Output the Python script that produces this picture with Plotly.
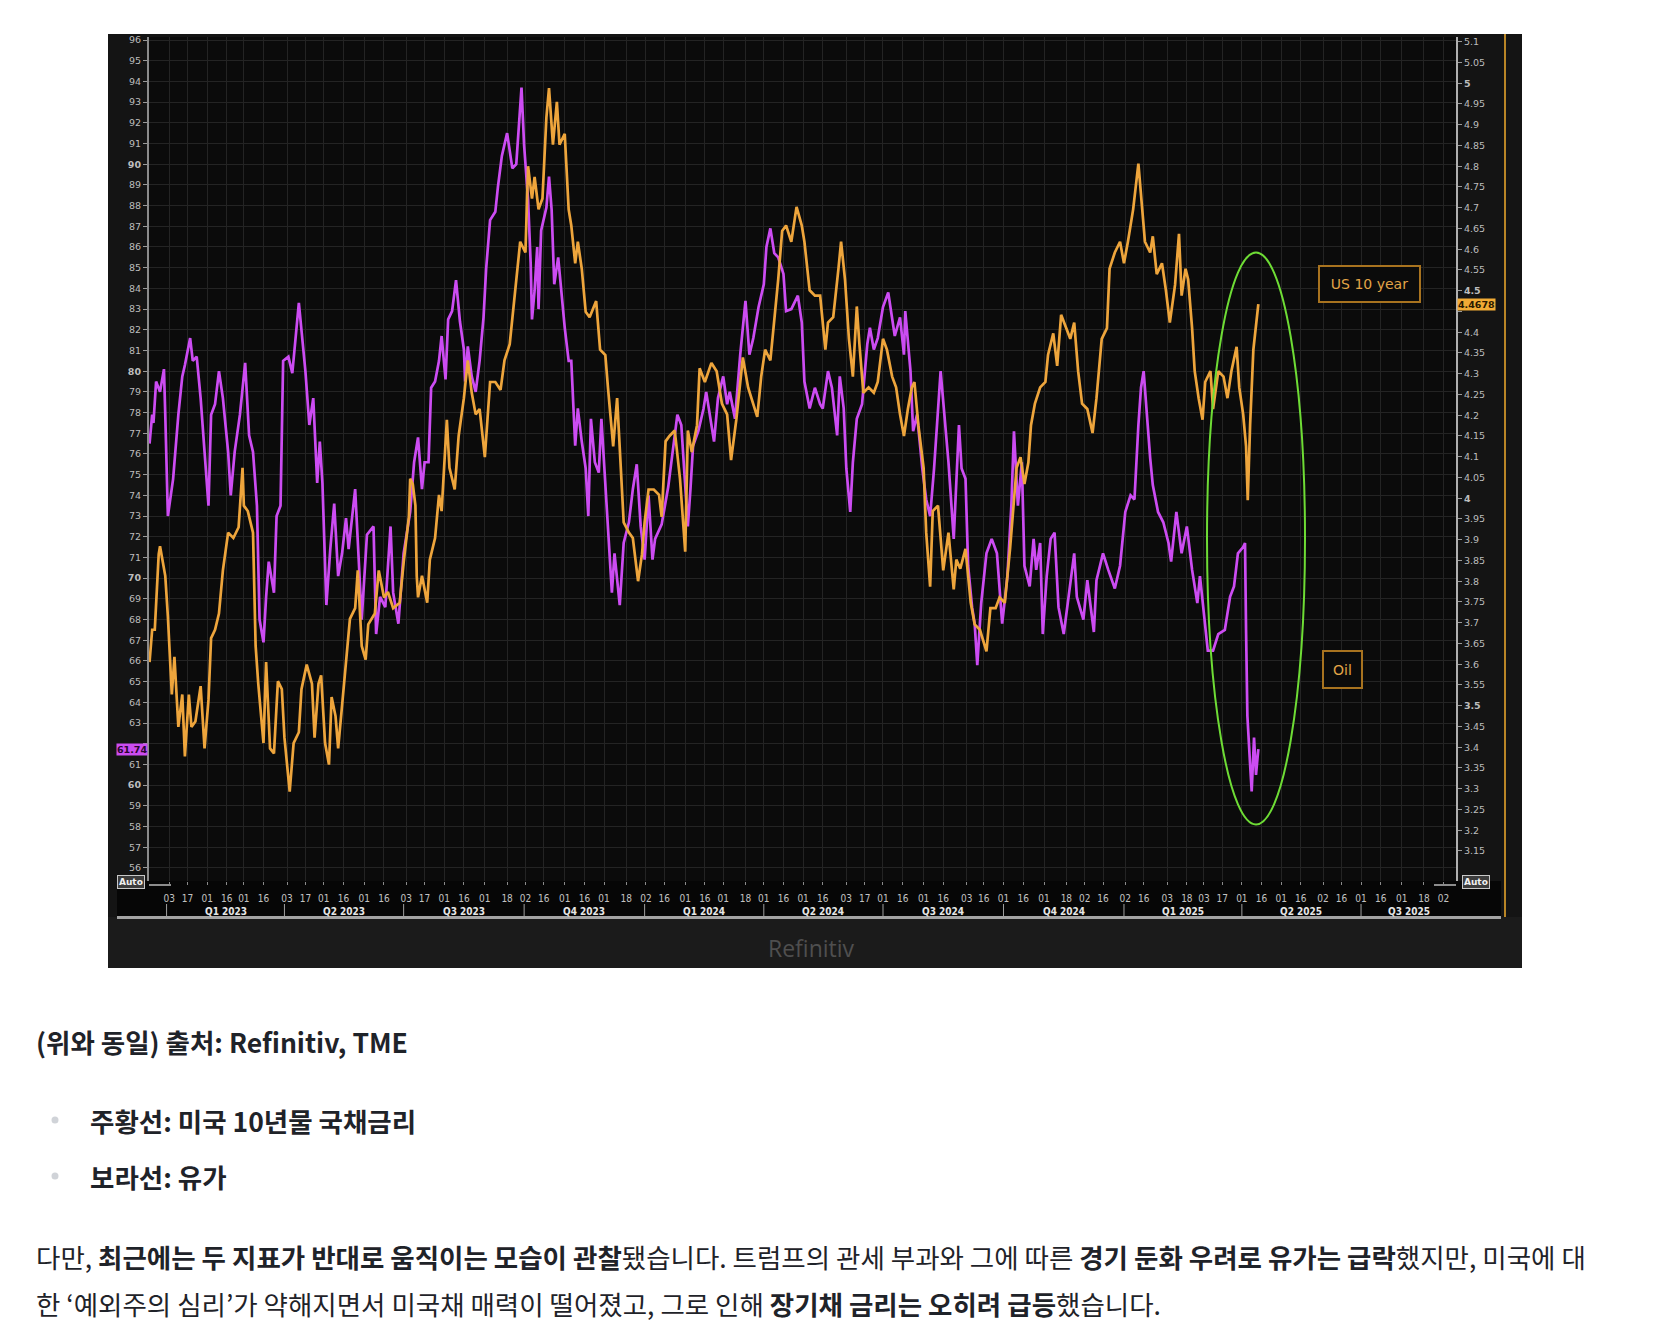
import plotly.graph_objects as go
import pandas as pd

# ---------------- DATA ----------------
oil_dates = [
    "2022-12-19", "2022-12-21", "2022-12-22", "2022-12-24", "2022-12-27", "2022-12-30", "2022-12-31",
    "2023-01-02", "2023-01-06", "2023-01-10", "2023-01-13", "2023-01-15", "2023-01-19", "2023-01-21",
    "2023-01-24", "2023-01-27", "2023-01-30", "2023-02-02", "2023-02-04", "2023-02-07", "2023-02-10",
    "2023-02-13", "2023-02-17", "2023-02-19", "2023-02-22", "2023-02-26", "2023-03-02", "2023-03-05",
    "2023-03-08", "2023-03-11", "2023-03-13", "2023-03-16", "2023-03-18", "2023-03-20", "2023-03-24",
    "2023-03-26", "2023-03-29", "2023-03-31", "2023-04-04", "2023-04-07", "2023-04-12", "2023-04-14",
    "2023-04-17", "2023-04-20", "2023-04-23", "2023-04-26", "2023-04-28", "2023-04-30", "2023-05-03",
    "2023-05-06", "2023-05-09", "2023-05-12", "2023-05-15", "2023-05-18", "2023-05-20", "2023-05-25",
    "2023-05-27", "2023-05-30", "2023-06-03", "2023-06-08", "2023-06-10", "2023-06-13", "2023-06-17",
    "2023-06-21", "2023-06-23", "2023-06-27", "2023-07-01", "2023-07-06", "2023-07-09", "2023-07-12",
    "2023-07-15", "2023-07-17", "2023-07-20", "2023-07-22", "2023-07-25", "2023-07-28", "2023-07-30",
    "2023-08-02", "2023-08-04", "2023-08-07", "2023-08-10", "2023-08-13", "2023-08-16", "2023-08-17",
    "2023-08-19", "2023-08-22", "2023-08-25", "2023-08-28", "2023-08-31", "2023-09-02", "2023-09-05",
    "2023-09-09", "2023-09-11", "2023-09-14", "2023-09-18", "2023-09-22", "2023-09-25", "2023-09-29",
    "2023-10-01", "2023-10-04", "2023-10-06", "2023-10-07", "2023-10-09", "2023-10-11", "2023-10-12",
    "2023-10-14", "2023-10-18", "2023-10-20", "2023-10-22", "2023-10-24", "2023-10-27", "2023-10-30",
    "2023-11-01", "2023-11-04", "2023-11-06", "2023-11-09", "2023-11-11", "2023-11-14", "2023-11-17",
    "2023-11-19", "2023-11-21", "2023-11-24", "2023-11-27", "2023-11-29", "2023-12-02", "2023-12-04",
    "2023-12-07", "2023-12-09", "2023-12-13", "2023-12-16", "2023-12-20", "2023-12-23", "2023-12-26",
    "2023-12-29", "2024-01-01", "2024-01-04", "2024-01-07", "2024-01-09", "2024-01-14", "2024-01-19",
    "2024-01-23", "2024-01-26", "2024-01-29", "2024-02-01", "2024-02-03", "2024-02-05", "2024-02-07",
    "2024-02-11", "2024-02-15", "2024-02-17", "2024-02-20", "2024-02-23", "2024-02-26", "2024-03-01",
    "2024-03-04", "2024-03-06", "2024-03-10", "2024-03-14", "2024-03-18", "2024-03-21", "2024-03-24",
    "2024-03-28", "2024-04-01", "2024-04-03", "2024-04-06", "2024-04-09", "2024-04-12", "2024-04-16",
    "2024-04-18", "2024-04-22", "2024-04-27", "2024-04-30", "2024-05-02", "2024-05-06", "2024-05-10",
    "2024-05-14", "2024-05-16", "2024-05-20", "2024-05-23", "2024-05-27", "2024-05-29", "2024-06-01",
    "2024-06-03", "2024-06-06", "2024-06-08", "2024-06-11", "2024-06-15", "2024-06-19", "2024-06-21",
    "2024-06-24", "2024-06-27", "2024-07-01", "2024-07-05", "2024-07-08", "2024-07-10", "2024-07-14",
    "2024-07-17", "2024-07-18", "2024-07-22", "2024-07-24", "2024-07-27", "2024-07-31", "2024-08-03",
    "2024-08-06", "2024-08-09", "2024-08-14", "2024-08-17", "2024-08-20", "2024-08-24", "2024-08-26",
    "2024-08-28", "2024-08-30", "2024-09-02", "2024-09-04", "2024-09-07", "2024-09-09", "2024-09-11",
    "2024-09-14", "2024-09-18", "2024-09-22", "2024-09-26", "2024-09-30", "2024-10-04", "2024-10-07",
    "2024-10-09", "2024-10-12", "2024-10-15", "2024-10-17", "2024-10-21", "2024-10-24", "2024-10-26",
    "2024-10-29", "2024-10-31", "2024-11-03", "2024-11-06", "2024-11-09", "2024-11-12", "2024-11-16",
    "2024-11-20", "2024-11-24", "2024-11-26", "2024-12-01", "2024-12-04", "2024-12-09", "2024-12-11",
    "2024-12-16", "2024-12-20", "2024-12-25", "2024-12-29", "2025-01-02", "2025-01-06", "2025-01-09",
    "2025-01-12", "2025-01-14", "2025-01-16", "2025-01-18", "2025-01-21", "2025-01-23", "2025-01-27",
    "2025-01-31", "2025-02-04", "2025-02-06", "2025-02-10", "2025-02-14", "2025-02-18", "2025-02-22",
    "2025-02-26", "2025-02-28", "2025-03-04", "2025-03-06", "2025-03-10", "2025-03-14", "2025-03-19",
    "2025-03-23", "2025-03-26", "2025-03-29", "2025-04-02", "2025-04-03 10:00", "2025-04-04 05:00",
    "2025-04-05 05:00", "2025-04-07 07:00", "2025-04-08 12:00", "2025-04-10 07:00", "2025-04-11 19:00",
    "2025-04-13 14:00",
]
oil_values = [
    76.5, 77.9, 77.5, 79.5, 79.0, 80.1, 77.9,
    73.0, 74.8, 77.9, 79.75, 80.3, 81.6, 80.5,
    80.7, 78.7, 76.1, 73.5, 77.9, 78.4, 80.0,
    78.7, 76.1, 74.0, 76.1, 77.9, 80.4, 76.9,
    76.1, 73.5, 68.0, 66.9, 69.1, 70.8, 69.3,
    73.0, 73.5, 80.5, 80.7, 79.9, 83.3, 82.1,
    80.0, 77.4, 78.7, 74.6, 76.6, 74.6, 68.7,
    71.4, 73.6, 70.1, 71.2, 72.9, 71.4, 74.3,
    71.7, 68.0, 72.1, 72.5, 67.3, 69.1, 68.6,
    72.5, 69.3, 67.8, 71.2, 73.2, 75.6, 76.8,
    74.3, 75.6, 75.6, 79.2, 79.5, 80.5, 81.7,
    79.6, 82.5, 82.9, 84.4, 82.4, 81.05, 79.5,
    81.2, 79.75, 79.0, 80.5, 82.6, 84.95, 87.3,
    87.7, 88.9, 90.4, 91.5, 89.8, 90.0, 93.7,
    90.9, 88.3, 85.2, 82.5, 83.9, 86.0, 83.0,
    86.8, 87.9, 89.4, 87.8, 84.2, 85.5, 83.4,
    82.1, 80.5, 80.5, 76.4, 78.2, 76.6, 75.3,
    73.0, 77.7, 75.6, 75.1, 77.7, 74.5, 72.7,
    69.3, 71.2, 68.7, 71.7, 72.7, 74.3, 75.5,
    72.5, 70.9, 74.0, 70.9, 71.9, 72.6, 74.4,
    76.4, 77.9, 77.4, 74.5, 72.5, 74.3, 76.4,
    77.1, 78.2, 79.0, 77.9, 76.6, 78.7, 79.75,
    78.4, 79.0, 77.7, 80.8, 83.4, 80.8, 81.6,
    83.1, 84.2, 86.0, 86.9, 85.7, 85.5, 84.7,
    82.9, 83.0, 83.65, 82.35, 79.5, 78.2, 79.2,
    78.4, 78.2, 80.0, 79.2, 76.9, 79.75, 78.2,
    75.3, 73.2, 75.6, 77.7, 78.4, 81.3, 82.1,
    81.05, 81.6, 83.1, 83.8, 82.6, 81.7, 82.6,
    80.8, 82.9, 80.0, 77.1, 77.9, 75.3, 73.8,
    73.0, 75.3, 80.0, 77.9, 75.6, 71.9, 74.8,
    77.4, 75.3, 74.8, 70.6, 68.6, 67.8, 65.8,
    68.8, 71.2, 71.9, 71.2, 67.8, 70.1, 73.5,
    77.1, 73.5, 75.6, 70.6, 69.6, 71.9, 70.4,
    71.7, 67.3, 70.1, 71.9, 72.2, 68.6, 67.3,
    69.3, 71.2, 69.1, 68.0, 69.9, 67.4, 69.9,
    71.2, 70.4, 69.5, 70.6, 73.2, 74.0, 73.8,
    77.4, 79.2, 80.0, 78.2, 75.8, 74.5, 73.2,
    72.7, 71.7, 70.8, 73.2, 71.2, 72.5, 70.4,
    68.8, 70.1, 67.5, 66.5, 66.5, 67.3, 67.5,
    69.1, 69.6, 71.2, 71.5, 71.7, 67.5,
    63.35, 61.0, 59.7, 62.3, 60.5,
    61.74,
]

us10y_dates = [
    "2022-12-19", "2022-12-21", "2022-12-23", "2022-12-26", "2022-12-27", "2022-12-31",
    "2023-01-02", "2023-01-05", "2023-01-07", "2023-01-10", "2023-01-13", "2023-01-15", "2023-01-18",
    "2023-01-20", "2023-01-23", "2023-01-27", "2023-01-30", "2023-02-02", "2023-02-04", "2023-02-07",
    "2023-02-10", "2023-02-13", "2023-02-17", "2023-02-21", "2023-02-25", "2023-02-28", "2023-03-01",
    "2023-03-04", "2023-03-08", "2023-03-10", "2023-03-12", "2023-03-16", "2023-03-18", "2023-03-21",
    "2023-03-24", "2023-03-27", "2023-03-30", "2023-04-01", "2023-04-05", "2023-04-08", "2023-04-12",
    "2023-04-14", "2023-04-18", "2023-04-22", "2023-04-24", "2023-04-27", "2023-04-29", "2023-05-02",
    "2023-05-05", "2023-05-07", "2023-05-10", "2023-05-12", "2023-05-15", "2023-05-19", "2023-05-21",
    "2023-05-25", "2023-05-27", "2023-05-30", "2023-06-02", "2023-06-04", "2023-06-09", "2023-06-12",
    "2023-06-16", "2023-06-19", "2023-06-23", "2023-06-28", "2023-07-01", "2023-07-05", "2023-07-06",
    "2023-07-08", "2023-07-10", "2023-07-11", "2023-07-12", "2023-07-15", "2023-07-19", "2023-07-21",
    "2023-07-25", "2023-07-28", "2023-07-30", "2023-08-03", "2023-08-05", "2023-08-09", "2023-08-12",
    "2023-08-16", "2023-08-19", "2023-08-22", "2023-08-25", "2023-08-28", "2023-09-01", "2023-09-05",
    "2023-09-09", "2023-09-13", "2023-09-16", "2023-09-20", "2023-09-23", "2023-09-25", "2023-09-28",
    "2023-10-02", "2023-10-04", "2023-10-07", "2023-10-09", "2023-10-12", "2023-10-15", "2023-10-18",
    "2023-10-20", "2023-10-23", "2023-10-26", "2023-10-28", "2023-11-01", "2023-11-04", "2023-11-06",
    "2023-11-09", "2023-11-11", "2023-11-14", "2023-11-17", "2023-11-20", "2023-11-25", "2023-11-28",
    "2023-12-02", "2023-12-04", "2023-12-08", "2023-12-11", "2023-12-13", "2023-12-16", "2023-12-20",
    "2023-12-23", "2023-12-27", "2023-12-30", "2024-01-01", "2024-01-04", "2024-01-08", "2024-01-12",
    "2024-01-14", "2024-01-17", "2024-01-20", "2024-01-24", "2024-01-28", "2024-02-01", "2024-02-03",
    "2024-02-06", "2024-02-10", "2024-02-12", "2024-02-16", "2024-02-21", "2024-02-25", "2024-02-29",
    "2024-03-04", "2024-03-07", "2024-03-11", "2024-03-14", "2024-03-16", "2024-03-20", "2024-03-24",
    "2024-03-27", "2024-03-30", "2024-04-02", "2024-04-06", "2024-04-09", "2024-04-12", "2024-04-15",
    "2024-04-18", "2024-04-22", "2024-04-26", "2024-04-30", "2024-05-02", "2024-05-06", "2024-05-10",
    "2024-05-14", "2024-05-18", "2024-05-20", "2024-05-24", "2024-05-28", "2024-05-30", "2024-06-02",
    "2024-06-05", "2024-06-08", "2024-06-11", "2024-06-13", "2024-06-16", "2024-06-20", "2024-06-24",
    "2024-06-27", "2024-07-01", "2024-07-04", "2024-07-08", "2024-07-11", "2024-07-14", "2024-07-17",
    "2024-07-20", "2024-07-23", "2024-07-25", "2024-07-28", "2024-08-01", "2024-08-03", "2024-08-06",
    "2024-08-08", "2024-08-12", "2024-08-16", "2024-08-20", "2024-08-24", "2024-08-26", "2024-08-29",
    "2024-09-02", "2024-09-06", "2024-09-09", "2024-09-13", "2024-09-18", "2024-09-21", "2024-09-25",
    "2024-09-28", "2024-10-02", "2024-10-06", "2024-10-09", "2024-10-11", "2024-10-14", "2024-10-17",
    "2024-10-20", "2024-10-22", "2024-10-25", "2024-10-29", "2024-11-02", "2024-11-04", "2024-11-08",
    "2024-11-11", "2024-11-14", "2024-11-18", "2024-11-21", "2024-11-24", "2024-11-27", "2024-11-30",
    "2024-12-04", "2024-12-08", "2024-12-11", "2024-12-15", "2024-12-19", "2024-12-21", "2024-12-25",
    "2024-12-29", "2025-01-01", "2025-01-04", "2025-01-08", "2025-01-12", "2025-01-14", "2025-01-17",
    "2025-01-21", "2025-01-23", "2025-01-26", "2025-01-30", "2025-02-02", "2025-02-05", "2025-02-09",
    "2025-02-12", "2025-02-14", "2025-02-17", "2025-02-19", "2025-02-22", "2025-02-24", "2025-02-27",
    "2025-03-02", "2025-03-04", "2025-03-08", "2025-03-10", "2025-03-14", "2025-03-18", "2025-03-21",
    "2025-03-24", "2025-03-28", "2025-03-30", "2025-04-02", "2025-04-04 05:00", "2025-04-05 12:00",
    "2025-04-07 07:00", "2025-04-09 19:00", "2025-04-12 07:00", "2025-04-13 14:00",
]
us10y_values = [
    3.605, 3.683, 3.683, 3.865, 3.884, 3.813,
    3.715, 3.527, 3.618, 3.449, 3.527, 3.378, 3.527,
    3.449, 3.462, 3.547, 3.397, 3.514, 3.663, 3.683,
    3.722, 3.826, 3.917, 3.904, 3.930, 4.073, 3.982,
    3.969, 3.917, 3.644, 3.553, 3.410, 3.605, 3.397,
    3.385, 3.559, 3.540, 3.423, 3.293, 3.410, 3.436,
    3.540, 3.599, 3.553, 3.423, 3.553, 3.573, 3.410,
    3.358, 3.521, 3.475, 3.397, 3.501, 3.631, 3.709,
    3.735, 3.826, 3.644, 3.611, 3.696, 3.722, 3.826,
    3.761, 3.774, 3.735, 3.748, 3.845, 3.955, 4.047,
    4.034, 3.982, 3.813, 3.761, 3.813, 3.748, 3.852,
    3.904, 4.008, 3.969, 4.189, 4.073, 4.021, 4.150,
    4.241, 4.332, 4.254, 4.202, 4.215, 4.099, 4.280,
    4.280, 4.261, 4.332, 4.371, 4.462, 4.514, 4.618,
    4.592, 4.800, 4.722, 4.774, 4.696, 4.722, 4.917,
    4.988, 4.852, 4.955, 4.852, 4.878, 4.696, 4.657,
    4.566, 4.618, 4.553, 4.449, 4.436, 4.475, 4.358,
    4.345, 4.267, 4.125, 4.241, 4.125, 3.942, 3.917,
    3.904, 3.800, 3.865, 3.942, 4.021, 4.021, 4.008,
    3.955, 4.137, 4.150, 4.163, 4.047, 3.871, 4.163,
    4.111, 4.176, 4.313, 4.280, 4.326, 4.306, 4.228,
    4.202, 4.092, 4.189, 4.280, 4.339, 4.267, 4.228,
    4.196, 4.293, 4.358, 4.332, 4.423, 4.527, 4.644,
    4.657, 4.618, 4.702, 4.657, 4.618, 4.501, 4.488,
    4.488, 4.358, 4.423, 4.436, 4.553, 4.618, 4.527,
    4.384, 4.293, 4.462, 4.371, 4.254, 4.267, 4.254,
    4.280, 4.384, 4.358, 4.293, 4.267, 4.202, 4.150,
    4.215, 4.267, 4.280, 4.176, 4.073, 3.917, 3.787,
    3.969, 3.982, 3.826, 3.917, 3.780, 3.852, 3.830,
    3.878, 3.748, 3.696, 3.683, 3.631, 3.735, 3.735,
    3.761, 3.748, 3.878, 4.008, 4.073, 4.099, 4.034,
    4.086, 4.176, 4.228, 4.267, 4.280, 4.345, 4.397,
    4.319, 4.442, 4.410, 4.384, 4.423, 4.306, 4.228,
    4.215, 4.157, 4.241, 4.384, 4.410, 4.553, 4.592,
    4.618, 4.566, 4.618, 4.696, 4.806, 4.722, 4.618,
    4.592, 4.631, 4.540, 4.566, 4.501, 4.423, 4.514,
    4.637, 4.488, 4.553, 4.527, 4.410, 4.306, 4.241,
    4.189, 4.280, 4.306, 4.215, 4.306, 4.293, 4.241,
    4.306, 4.365, 4.267, 4.202, 4.125, 3.995,
    4.176, 4.358, 4.436, 4.4678,
]

x_tick_dates = [
    "2023-01-03", "2023-01-17", "2023-02-01", "2023-02-16", "2023-03-01", "2023-03-16",
    "2023-04-03", "2023-04-17", "2023-05-01", "2023-05-16", "2023-06-01", "2023-06-16",
    "2023-07-03", "2023-07-17", "2023-08-01", "2023-08-16", "2023-09-01", "2023-09-18",
    "2023-10-02", "2023-10-16", "2023-11-01", "2023-11-16", "2023-12-01", "2023-12-18",
    "2024-01-02", "2024-01-16", "2024-02-01", "2024-02-16", "2024-03-01", "2024-03-18",
    "2024-04-01", "2024-04-16", "2024-05-01", "2024-05-16", "2024-06-03", "2024-06-17",
    "2024-07-01", "2024-07-16", "2024-08-01", "2024-08-16", "2024-09-03", "2024-09-16",
    "2024-10-01", "2024-10-16", "2024-11-01", "2024-11-18", "2024-12-02", "2024-12-16",
    "2025-01-02", "2025-01-16", "2025-02-03", "2025-02-18", "2025-03-03", "2025-03-17",
    "2025-04-01", "2025-04-16", "2025-05-01", "2025-05-16", "2025-06-02", "2025-06-16",
    "2025-07-01", "2025-07-16", "2025-08-01", "2025-08-18", "2025-09-02",
]
x_tick_text = [d[8:10] for d in x_tick_dates]

quarter_starts = ["2023-01-01", "2023-04-01", "2023-07-01", "2023-10-01", "2024-01-01", "2024-04-01",
                  "2024-07-01", "2024-10-01", "2025-01-01", "2025-04-01", "2025-07-01"]
quarter_labels = ["Q1 2023", "Q2 2023", "Q3 2023", "Q4 2023", "Q1 2024", "Q2 2024",
                  "Q3 2024", "Q4 2024", "Q1 2025", "Q2 2025", "Q3 2025"]

x_range = ["2022-12-18 14:00", "2025-09-11 12:00"]
oil_range = [55.37, 96.145]
us_range = [3.0776, 5.1113]
oil_ticks = list(range(56, 97))
us_ticks = [round(3.15 + 0.05 * i, 2) for i in range(40)]

# ---------------- STYLE / LAYOUT ----------------
W, H = 1672, 1332
PL, PR, PT, PB = 149, 1456, 37, 881   # plot area in page pixels


def px(x):
    return (x - PL) / (PR - PL)


def py(y):
    return (PB - y) / (PB - PT)


ORANGE = "#eea53c"
MAGENTA = "#cc4cf2"
GRID = "#242424"
AXFONT = "DejaVu Sans, Verdana, sans-serif"
NARROW = "Liberation Sans Narrow, DejaVu Sans Condensed, Arial Narrow, sans-serif"
KR = "Noto Sans CJK KR, Noto Sans, sans-serif"

fig = go.Figure()
fig.add_trace(go.Scatter(x=us10y_dates, y=us10y_values, yaxis="y2", mode="lines",
                         line=dict(color=ORANGE, width=2.7), name="US 10 year"))
fig.add_trace(go.Scatter(x=oil_dates, y=oil_values, yaxis="y", mode="lines",
                         line=dict(color=MAGENTA, width=2.7), name="Oil"))

# tick labels hidden behind the last-value boxes
last_oil_tick = min(oil_ticks, key=lambda v: abs(v - oil_values[-1]))
last_us_tick = min(us_ticks, key=lambda v: abs(v - us10y_values[-1]))
oil_ticktext = ["" if v == last_oil_tick else (f"<b>{v}</b>" if v % 10 == 0 else str(v))
                for v in oil_ticks]
us_ticktext = ["" if v == last_us_tick else
               (f"<b>{v:g}</b>" if abs(v * 2 - round(v * 2)) < 1e-9 else f"{v:g}") for v in us_ticks]

shapes = []


def rect(x0, y0, x1, y1, color):
    shapes.append(dict(type="rect", xref="paper", yref="paper", x0=px(x0), x1=px(x1),
                       y0=py(y1), y1=py(y0), fillcolor=color, line=dict(width=0), layer="below"))


def pline(x0, y0, x1, y1, color, width, layer="above"):
    shapes.append(dict(type="line", xref="paper", yref="paper", x0=px(x0), x1=px(x1),
                       y0=py(y0), y1=py(y1), line=dict(color=color, width=width), layer=layer))


# frame of the screenshot
rect(108, 34, 1522, 968, "#141414")
rect(108, 917, 1522, 968, "#1b1b1b")
rect(117, 881, 1501, 917, "#060606")
rect(PL, PT, PR, PB, "#0b0b0b")
pline(117, 917.5, 1501, 917.5, "#a3a3a3", 3)
pline(1505, 34, 1505, 917, "#b98526", 2)
# axis corners
pline(PL, PB + 4, PL + 22, PB + 4, "#8c8c8c", 2)
pline(PR - 22, PB + 4, PR, PB + 4, "#8c8c8c", 2)

# quarter separators
for q in quarter_starts:
    shapes.append(dict(type="line", xref="x", yref="paper", x0=q, x1=q, y0=py(916), y1=py(904),
                       line=dict(color="#a0a0a0", width=1)))

# green ellipse
shapes.append(dict(type="circle", xref="paper", yref="paper", x0=px(1207), x1=px(1305),
                   y0=py(824.5), y1=py(252.5), line=dict(color="#6edc35", width=2)))

# bullets
for cy in (1120, 1176):
    shapes.append(dict(type="circle", xref="paper", yref="paper", x0=px(51.5), x1=px(58.5),
                       y0=py(cy + 3.5), y1=py(cy - 3.5), fillcolor="#d0d3d8", line=dict(width=0)))

annotations = []


def note(x, y, text, font, xanchor="center", yanchor="middle", xref="paper", yref="paper", **kw):
    annotations.append(dict(x=x, y=y, xref=xref, yref=yref, text=text, showarrow=False,
                            xanchor=xanchor, yanchor=yanchor, font=font, **kw))


# quarter labels
x_end = pd.Timestamp(x_range[1])
for i, (qs, ql) in enumerate(zip(quarter_starts, quarter_labels)):
    s = pd.Timestamp(qs)
    e = pd.Timestamp(quarter_starts[i + 1]) if i + 1 < len(quarter_starts) else x_end
    e = min(e, x_end)
    c = s + (e - s) / 2
    note(c.strftime("%Y-%m-%d %H:%M"), py(911), f"<b>{ql}</b>",
         dict(family=NARROW, size=10, color="#e6e6e6"), xref="x")

# last value labels
note(px(148), oil_values[-1], f"<b>{oil_values[-1]:.2f}</b>",
     dict(family=AXFONT, size=9.5, color="#2a0630"), xanchor="right", yref="y",
     bgcolor=MAGENTA, borderpad=0)
note(px(1457), us10y_values[-1], f"<b>{us10y_values[-1]:.4f}</b>",
     dict(family=AXFONT, size=9.5, color="#2a1a00"), xanchor="left", yref="y2",
     bgcolor="#f2ab35", borderpad=0)

# Auto boxes
for cx in (131, 1476):
    note(px(cx), py(882), "<b>Auto</b>", dict(family=AXFONT, size=9, color="#f0f0f0"),
         bgcolor="#3c3c3c", bordercolor="#c8c8c8", borderwidth=1, borderpad=1)

# chart labels
note(px(1369), py(283.5), "US 10 year", dict(family=AXFONT, size=14, color="#e2a447"),
     width=99, height=34, bgcolor="#0b0b0b", bordercolor="#a8731f", borderwidth=2, borderpad=0)
note(px(1342), py(669.5), "Oil", dict(family=AXFONT, size=14, color="#e2a447"),
     width=37, height=35, bgcolor="#0b0b0b", bordercolor="#a8731f", borderwidth=2, borderpad=0)

# watermark
note(px(811), py(948), "Refinitiv", dict(family="Open Sans, sans-serif", size=23, color="#4f4f4f"))

# article text below the chart
TXT = "#1f2329"
KF = dict(family=KR, size=26.5, color=TXT)
note(px(34), py(1041), "<b>(위와 동일) 출처: Refinitiv, TME</b>", KF, xanchor="left")
note(px(88), py(1120), "<b>주황선: 미국 10년물 국채금리</b>", KF, xanchor="left")
note(px(88), py(1176), "<b>보라선: 유가</b>", KF, xanchor="left")
note(px(34), py(1256),
     ("다만, <b>최근에는 두 지표가 반대로 움직이는 모습이 관찰</b>됐습니다. "
      "트럼프의 관세 부과와 그에 따른 <b>경기 둔화 우려로 유가는 급락</b>했지만, 미국에 대"),
     KF, xanchor="left")
note(px(34), py(1303),
     ("한 ‘예외주의 심리’가 약해지면서 미국채 매력이 떨어졌고, 그로 인해 "
      "<b>장기채 금리는 오히려 급등</b>했습니다."),
     KF, xanchor="left")

fig.update_layout(
    width=W, height=H, autosize=False,
    margin=dict(l=PL, r=W - PR, t=PT, b=H - PB, pad=0),
    paper_bgcolor="#ffffff", plot_bgcolor="rgba(0,0,0,0)",
    showlegend=False,
    xaxis=dict(type="date", range=x_range, tickvals=x_tick_dates, ticktext=x_tick_text,
               tickangle=0, ticks="outside", ticklen=3, tickcolor="#8a8a8a",
               ticklabelstandoff=5,
               tickfont=dict(family=NARROW, size=10, color="#c2c2c2"),
               showgrid=True, gridcolor=GRID, gridwidth=1, showline=False, zeroline=False),
    yaxis=dict(range=oil_range, tickvals=oil_ticks, ticktext=oil_ticktext, side="left",
               ticks="outside", ticklen=4, tickcolor="#9a9a9a",
               tickfont=dict(family=AXFONT, size=9.5, color="#bdbdbd"),
               showgrid=True, gridcolor=GRID, gridwidth=1, showline=True,
               linecolor="#8c8c8c", linewidth=2, zeroline=False),
    yaxis2=dict(range=us_range, tickvals=us_ticks, ticktext=us_ticktext, side="right",
                overlaying="y", ticks="outside", ticklen=4, tickcolor="#9a9a9a",
                tickfont=dict(family=AXFONT, size=9.5, color="#bdbdbd"),
                showgrid=False, showline=True, linecolor="#b0b0b0", linewidth=2, zeroline=False),
    shapes=shapes,
    annotations=annotations,
)

fig.write_html("out.html")
